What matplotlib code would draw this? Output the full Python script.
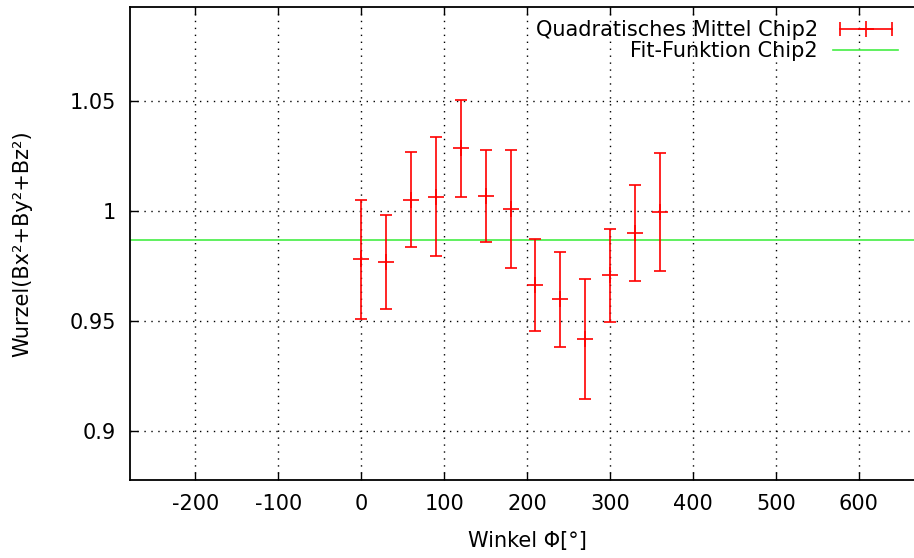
import matplotlib.pyplot as plt
from matplotlib.lines import Line2D
from matplotlib.legend_handler import HandlerLine2D, HandlerTuple

# Winkel in Grad, Betrag und Fehler
winkel = [0, 30, 60, 90, 120, 150, 180, 210, 240, 270, 300, 330, 360]
betrag = [0.978, 0.9768, 1.0052, 1.0064, 1.0284, 1.0068, 1.0009,
          0.9663, 0.9598, 0.9418, 0.9708, 0.9900, 0.9994]
fehler = [0.027, 0.0213, 0.0216, 0.027, 0.022, 0.021, 0.027,
          0.0208, 0.0215, 0.0272, 0.0212, 0.0218, 0.0268]
fit_wert = 0.9868

xticks = [-200, -100, 0, 100, 200, 300, 400, 500, 600]
yticks = [0.9, 0.95, 1.0, 1.05]
yticklabels = ['0.9', '0.95', '1', '1.05']

plt.rcParams['font.family'] = 'DejaVu Sans'
plt.rcParams['font.size'] = 15

fig = plt.figure(figsize=(9.14, 5.58), dpi=100)
ax = fig.add_axes([130/914, 1-480/558, 795/914, 473/558])

ax.errorbar(winkel, betrag, yerr=fehler, fmt='+', color='red',
            ecolor='red', elinewidth=1.2, capsize=4, capthick=1.2,
            markersize=12, markeredgewidth=1.2, zorder=3)
ax.axhline(fit_wert, color='#44ee44', lw=1.2, zorder=2)

ax.set_xlim(-279, 680)
ax.set_ylim(0.8777, 1.0927)
ax.set_xticks(xticks)
ax.set_xticklabels([str(t) for t in xticks])
ax.set_yticks(yticks)
ax.set_yticklabels(yticklabels)

ax.grid(True, color='black', linestyle=(0, (1, 4)), linewidth=1)
ax.tick_params(direction='in', length=6, width=1, top=True, right=True,
               pad=10)
for s in ax.spines.values():
    s.set_linewidth(1.3)
ax.spines['right'].set_visible(False)

ax.set_xlabel('Winkel Φ[°]', labelpad=12)
ax.set_ylabel('Wurzel(Bx²+By²+Bz²)', labelpad=27)

# Legende im gnuplot-Stil: Linie mit Endkappen und Kreuz in der Mitte
kappen = Line2D([], [], color='red', lw=1.2, marker='|', markersize=10,
                markeredgewidth=1.2)
kreuz = Line2D([], [], color='red', lw=0, marker='+', markersize=12,
               markeredgewidth=1.2)
fit_linie = Line2D([], [], color='#44ee44', lw=1.2)
ax.legend([(kappen, kreuz), fit_linie],
          ['Quadratisches Mittel Chip2', 'Fit-Funktion Chip2'],
          handler_map={kappen: HandlerLine2D(numpoints=2),
                       kreuz: HandlerLine2D(numpoints=1),
                       tuple: HandlerTuple(ndivide=1, pad=0)},
          loc='upper right', bbox_to_anchor=(898/914, 1-20/558),
          bbox_transform=fig.transFigure, markerfirst=False, frameon=False,
          borderpad=0, borderaxespad=0, handlelength=3.1,
          handletextpad=0.75, labelspacing=0.05)

fig.savefig('out.png', dpi=100)
